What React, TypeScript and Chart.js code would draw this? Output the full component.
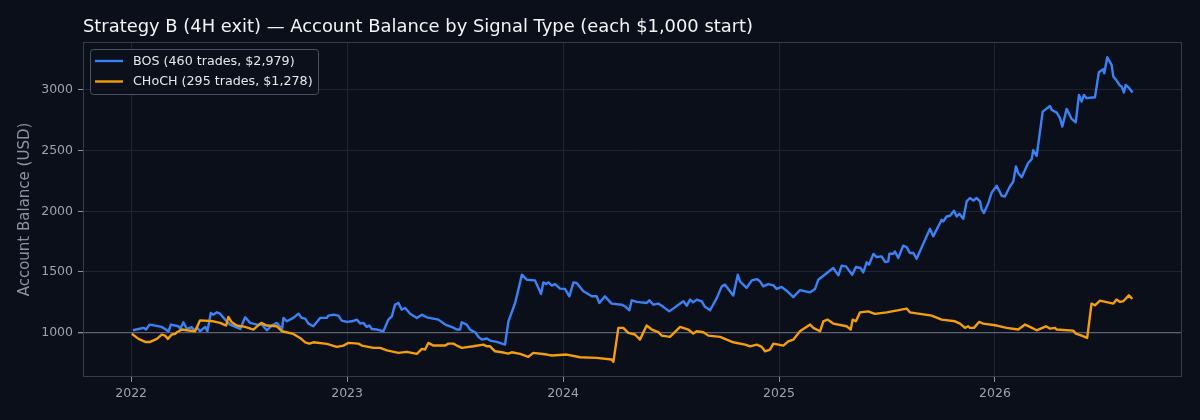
import { useEffect, useRef } from 'react';
import { Chart, registerables } from 'chart.js';

Chart.register(...registerables);

// decimal years
const bosDates = [
  2022.008, 2022.057, 2022.069, 2022.085, 2022.142, 2022.173, 2022.184, 2022.219, 2022.227, 2022.242,
  2022.258, 2022.281, 2022.292, 2022.307, 2022.319, 2022.343, 2022.353, 2022.369, 2022.381, 2022.397,
  2022.412, 2022.435, 2022.458, 2022.505, 2022.528, 2022.551, 2022.582, 2022.605, 2022.628, 2022.651,
  2022.675, 2022.69, 2022.698, 2022.705, 2022.721, 2022.751, 2022.775, 2022.79, 2022.806, 2022.821,
  2022.844, 2022.875, 2022.906, 2022.913, 2022.937, 2022.96, 2022.975, 2022.999, 2023.022, 2023.045,
  2023.06, 2023.075, 2023.091, 2023.103, 2023.114, 2023.138, 2023.168, 2023.191, 2023.207, 2023.222,
  2023.238, 2023.253, 2023.269, 2023.292, 2023.323, 2023.346, 2023.369, 2023.423, 2023.454, 2023.492,
  2023.508, 2023.523, 2023.531, 2023.554, 2023.569, 2023.593, 2023.608, 2023.624, 2023.647, 2023.662,
  2023.693, 2023.731, 2023.747, 2023.778, 2023.793, 2023.809, 2023.832, 2023.87, 2023.886, 2023.898,
  2023.909, 2023.921, 2023.932, 2023.948, 2023.963, 2023.986, 2024.009, 2024.029, 2024.048, 2024.063,
  2024.094, 2024.133, 2024.156, 2024.168, 2024.194, 2024.225, 2024.272, 2024.287, 2024.307, 2024.318,
  2024.341, 2024.387, 2024.4, 2024.418, 2024.441, 2024.464, 2024.492, 2024.557, 2024.573, 2024.588,
  2024.603, 2024.619, 2024.642, 2024.657, 2024.681, 2024.712, 2024.735, 2024.75, 2024.773, 2024.788,
  2024.809, 2024.819, 2024.85, 2024.874, 2024.897, 2024.912, 2024.927, 2024.95, 2024.974, 2024.989,
  2025.012, 2025.035, 2025.066, 2025.097, 2025.144, 2025.167, 2025.182, 2025.251, 2025.275, 2025.29,
  2025.31, 2025.339, 2025.356, 2025.378, 2025.39, 2025.406, 2025.417, 2025.437, 2025.452, 2025.475,
  2025.491, 2025.506, 2025.511, 2025.529, 2025.537, 2025.552, 2025.575, 2025.591, 2025.606, 2025.622,
  2025.637, 2025.699, 2025.714, 2025.753, 2025.761, 2025.776, 2025.792, 2025.81, 2025.823, 2025.835,
  2025.853, 2025.869, 2025.884, 2025.9, 2025.915, 2025.931, 2025.938, 2025.949, 2025.969, 2025.985,
  2026.008, 2026.031, 2026.046, 2026.069, 2026.085, 2026.097, 2026.108, 2026.124, 2026.154, 2026.17,
  2026.177, 2026.193, 2026.221, 2026.255, 2026.263, 2026.286, 2026.301, 2026.312, 2026.332, 2026.355,
  2026.374, 2026.389, 2026.401, 2026.412, 2026.424, 2026.463, 2026.481, 2026.501, 2026.506, 2026.52,
  2026.54, 2026.548, 2026.563, 2026.579, 2026.587, 2026.597, 2026.605, 2026.622, 2026.637,
];
const bosBalance = [
  1019, 1039, 1025, 1066, 1047, 1011, 1066, 1052, 1030, 1085,
  1030, 1044, 1019, 1039, 1011, 1047, 1011, 1162, 1148, 1167,
  1156, 1107, 1066, 1030, 1126, 1080, 1066, 1066, 1019, 1058,
  1080, 1047, 1019, 1121, 1093, 1121, 1156, 1121, 1115, 1074,
  1052, 1121, 1121, 1140, 1148, 1140, 1099, 1088, 1093, 1107,
  1074, 1080, 1047, 1058, 1030, 1025, 1011, 1107, 1134, 1230,
  1244, 1189, 1203, 1156, 1121, 1148, 1126, 1107, 1066, 1040,
  1025, 1025, 1085, 1066, 1025, 1003, 965, 942, 951, 934,
  923, 901, 1093, 1244, 1354, 1477, 1436, 1430, 1368, 1318,
  1414, 1400, 1414, 1387, 1400, 1362, 1360, 1299, 1414, 1409,
  1340, 1299, 1299, 1244, 1299, 1239, 1230, 1216, 1184, 1266,
  1253, 1244, 1266, 1230, 1239, 1212, 1175, 1258, 1222, 1272,
  1249, 1272, 1258, 1212, 1184, 1286, 1381, 1395, 1340, 1305,
  1477, 1422, 1368, 1430, 1441, 1422, 1381, 1400, 1389, 1360,
  1376, 1345, 1292, 1350, 1332, 1360, 1436, 1532, 1472, 1551,
  1546, 1477, 1541, 1532, 1496, 1579, 1560, 1648, 1623, 1628,
  1582, 1587, 1650, 1650, 1669, 1615, 1716, 1705, 1656, 1656,
  1609, 1856, 1793, 1930, 1916, 1957, 1963, 2004, 1957, 1979,
  1938, 2081, 2109, 2089, 2109, 2081, 2018, 1985, 2067, 2155,
  2210, 2128, 2122, 2204, 2245, 2369, 2314, 2281, 2400, 2430,
  2503, 2457, 2821, 2868, 2835, 2813, 2767, 2698, 2844, 2761,
  2734, 2959, 2904, 2959, 2932, 2940, 3146, 3170, 3137, 3269,
  3206, 3110, 3077, 3035, 3027, 2978, 3041, 3014, 2979,
];

const chochDates = [
  2022.003, 2022.034, 2022.065, 2022.088, 2022.119, 2022.142, 2022.157, 2022.17, 2022.188, 2022.204,
  2022.212, 2022.235, 2022.258, 2022.296, 2022.319, 2022.381, 2022.412, 2022.44, 2022.45, 2022.466,
  2022.489, 2022.528, 2022.566, 2022.602, 2022.628, 2022.675, 2022.698, 2022.751, 2022.782, 2022.806,
  2022.825, 2022.844, 2022.906, 2022.952, 2022.983, 2023.006, 2023.052, 2023.068, 2023.122, 2023.153,
  2023.184, 2023.238, 2023.276, 2023.323, 2023.346, 2023.361, 2023.376, 2023.4, 2023.454, 2023.469,
  2023.492, 2023.508, 2023.531, 2023.585, 2023.631, 2023.647, 2023.662, 2023.685, 2023.716, 2023.747,
  2023.762, 2023.801, 2023.839, 2023.862, 2023.925, 2023.948, 2024.017, 2024.079, 2024.156, 2024.225,
  2024.233, 2024.256, 2024.279, 2024.302, 2024.333, 2024.356, 2024.387, 2024.411, 2024.441, 2024.457,
  2024.495, 2024.542, 2024.58, 2024.603, 2024.619, 2024.65, 2024.673, 2024.727, 2024.788, 2024.843,
  2024.866, 2024.897, 2024.92, 2024.935, 2024.958, 2024.974, 2025.02, 2025.043, 2025.066, 2025.097,
  2025.144, 2025.159, 2025.19, 2025.205, 2025.224, 2025.251, 2025.313, 2025.332, 2025.341, 2025.356,
  2025.375, 2025.413, 2025.444, 2025.499, 2025.591, 2025.606, 2025.653, 2025.707, 2025.753, 2025.815,
  2025.838, 2025.861, 2025.876, 2025.884, 2025.903, 2025.926, 2025.946, 2026.008, 2026.054, 2026.108,
  2026.139, 2026.162, 2026.193, 2026.236, 2026.255, 2026.278, 2026.286, 2026.362, 2026.375, 2026.401,
  2026.427, 2026.447, 2026.463, 2026.486, 2026.548, 2026.563, 2026.579, 2026.594, 2026.62, 2026.636,
];
const chochBalance = [
  990, 948, 923, 923, 948, 984, 975, 948, 984, 989,
  1003, 1025, 1019, 1011, 1101, 1093, 1080, 1058, 1129, 1085,
  1058, 1047, 1025, 1080, 1058, 1052, 1011, 989, 956, 920,
  909, 920, 907, 882, 893, 915, 909, 893, 874, 874,
  854, 833, 841, 825, 866, 860, 915, 893, 893, 909,
  909, 893, 874, 887, 901, 887, 887, 846, 838, 827,
  838, 825, 800, 833, 819, 811, 819, 797, 792, 778,
  759, 1039, 1039, 997, 984, 942, 1058, 1025, 1003, 975,
  965, 1047, 1025, 992, 1011, 1003, 975, 965, 920, 901,
  887, 901, 882, 846, 860, 909, 893, 928, 942, 1011,
  1066, 1039, 1011, 1093, 1107, 1074, 1052, 1025, 1107, 1093,
  1167, 1175, 1154, 1167, 1198, 1167, 1154, 1140, 1107, 1093,
  1074, 1039, 1052, 1039, 1039, 1088, 1074, 1058, 1039, 1025,
  1066, 1047, 1019, 1052, 1033, 1039, 1025, 1016, 992, 975,
  956, 1239, 1225, 1263, 1239, 1272, 1253, 1258, 1307, 1278,
];

const seriesLabels = ['BOS (460 trades, $2,979)', 'CHoCH (295 trades, $1,278)'];
const seriesColors = ['#3b82f6', '#f59e0b'];
const yearTicks = [2022, 2023, 2024, 2025, 2026];
const balanceTicks = [1000, 1500, 2000, 2500, 3000];

const TITLE = 'Strategy B (4H exit) \u2014 Account Balance by Signal Type (each $1,000 start)';
const BG = '#0b0f19';
const FONT = "'DejaVu Sans', sans-serif";

const toPoints = (xs: number[], ys: number[]) => xs.map((x, i) => ({ x, y: ys[i] }));

// title, frame and legend drawn the way matplotlib does them
const decorPlugin = {
  id: 'decor',
  beforeDraw(chart: Chart) {
    const { ctx, width, height } = chart;
    ctx.save();
    ctx.fillStyle = BG;
    ctx.fillRect(0, 0, width, height);
    ctx.restore();
  },
  afterDatasetsDraw(chart: Chart) {
    const { ctx, chartArea: a } = chart;
    ctx.save();
    ctx.strokeStyle = '#363c4a';
    ctx.lineWidth = 1;
    ctx.strokeRect(a.left + 0.5, a.top + 0.5, a.right - a.left - 1, a.bottom - a.top - 1);

    ctx.fillStyle = '#f3f4f6';
    ctx.font = `17.9px ${FONT}`;
    ctx.textBaseline = 'alphabetic';
    ctx.textAlign = 'left';
    ctx.fillText(TITLE, a.left, 32);

    // legend box
    const bx = a.left + 7, by = a.top + 7, bw = 228, bh = 45;
    ctx.beginPath();
    ctx.roundRect(bx + 0.5, by + 0.5, bw, bh, 3);
    ctx.fillStyle = 'rgba(13,17,28,0.85)';
    ctx.fill();
    ctx.strokeStyle = '#4b5263';
    ctx.stroke();
    ctx.font = `12.7px ${FONT}`;
    ctx.textBaseline = 'middle';
    seriesLabels.forEach((label, i) => {
      const ly = by + 12 + i * 20.5;
      ctx.beginPath();
      ctx.moveTo(bx + 5, ly);
      ctx.lineTo(bx + 33, ly);
      ctx.strokeStyle = seriesColors[i];
      ctx.lineWidth = 2.4;
      ctx.stroke();
      ctx.fillStyle = '#e5e7eb';
      ctx.fillText(label, bx + 43, ly + 0.5);
    });
    ctx.restore();
  },
};

export default function App() {
  const canvasRef = useRef<HTMLCanvasElement>(null);
  const chartRef = useRef<Chart | null>(null);

  useEffect(() => {
    if (!canvasRef.current) return;
    if (chartRef.current) chartRef.current.destroy();

    chartRef.current = new Chart(canvasRef.current, {
      type: 'line',
      data: {
        datasets: [
          {
            label: seriesLabels[0],
            data: toPoints(bosDates, bosBalance),
            borderColor: seriesColors[0],
            borderWidth: 2.4,
            borderJoinStyle: 'round',
            pointRadius: 0,
            tension: 0,
            order: 2,
          },
          {
            label: seriesLabels[1],
            data: toPoints(chochDates, chochBalance),
            borderColor: seriesColors[1],
            borderWidth: 2.4,
            borderJoinStyle: 'round',
            pointRadius: 0,
            tension: 0,
            order: 1,
          },
        ],
      },
      options: {
        animation: false,
        responsive: true,
        maintainAspectRatio: false,
        layout: { padding: { top: 42, right: 18, left: 0, bottom: 0 } },
        plugins: {
          legend: { display: false },
          title: { display: false },
          tooltip: { enabled: false },
        },
        scales: {
          x: {
            type: 'linear',
            min: 2021.777,
            max: 2026.866,
            afterBuildTicks: (s: any) => { s.ticks = yearTicks.map(v => ({ value: v })); },
            afterFit: (s: any) => { s.height = 43; },
            border: { display: false },
            grid: { color: '#1f2533', lineWidth: 1, tickLength: 5, tickColor: '#8b93a3' },
            ticks: {
              color: '#9ca3af',
              font: { family: FONT, size: 12.5 },
              padding: 4,
              maxRotation: 0,
              callback: (v: any) => String(v),
            },
          },
          y: {
            min: 634,
            max: 3395,
            afterBuildTicks: (s: any) => { s.ticks = balanceTicks.map(v => ({ value: v })); },
            afterFit: (s: any) => { s.width = 83; },
            border: { display: false },
            grid: {
              color: (c: any) => (c.tick && c.tick.value === 1000 ? '#5b6271' : '#1f2533'),
              lineWidth: (c: any) => (c.tick && c.tick.value === 1000 ? 1.3 : 1),
              tickLength: 5,
              tickColor: '#8b93a3',
            },
            ticks: {
              color: '#9ca3af',
              font: { family: FONT, size: 12.5 },
              padding: 5,
              callback: (v: any) => String(v),
            },
            title: {
              display: true,
              text: 'Account Balance (USD)',
              color: '#8b93a3',
              font: { family: FONT, size: 15 },
              padding: { top: 16, bottom: 0 },
            },
          },
        },
      },
      plugins: [decorPlugin],
    });

    return () => {
      if (chartRef.current) {
        chartRef.current.destroy();
        chartRef.current = null;
      }
    };
  }, []);

  return (
    <div style={{ position: 'fixed', left: 0, top: 0, width: 1200, height: 420, background: BG }}>
      <canvas ref={canvasRef} />
    </div>
  );
}
